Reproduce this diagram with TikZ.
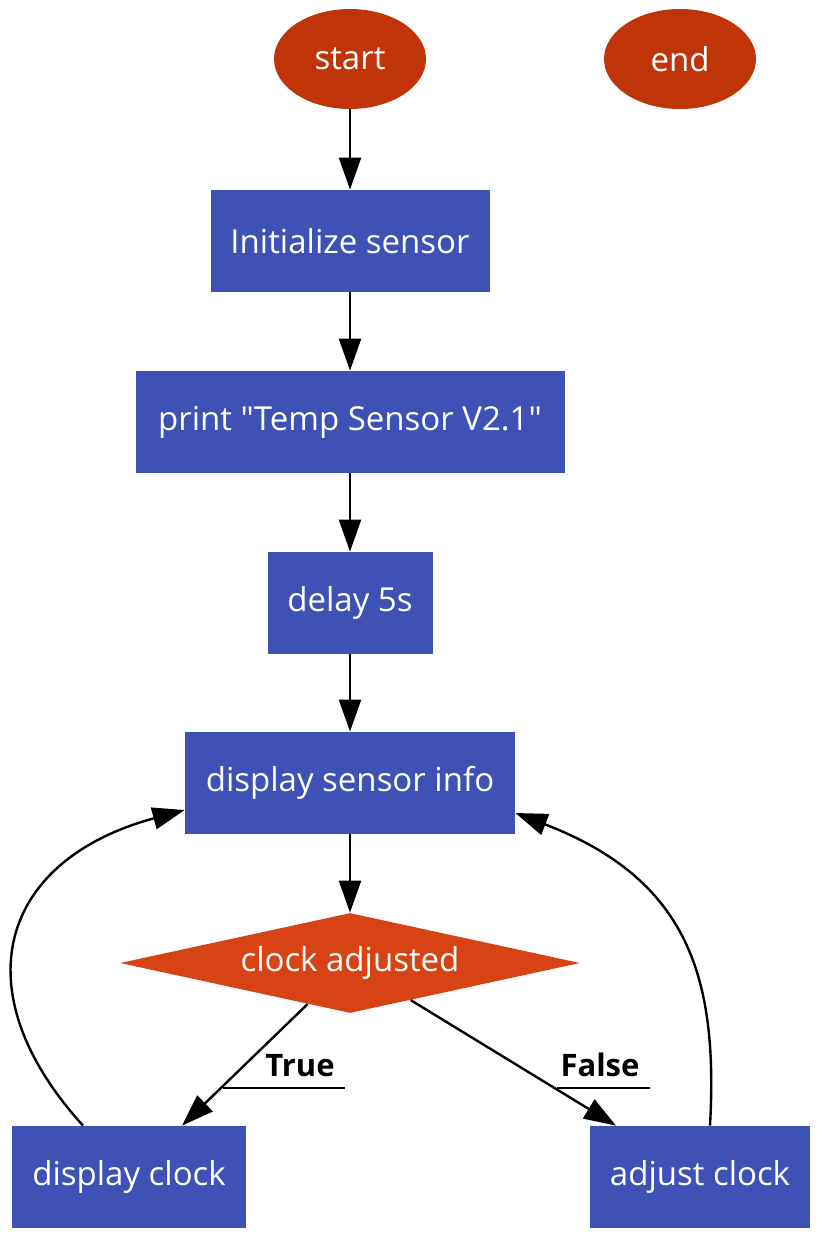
\documentclass[tikz,border=0pt]{standalone}
\usepackage{fontspec}
\setmainfont{Open Sans}
\usepackage{tikz}
\usepackage{xcolor}
\usetikzlibrary{arrows.meta,positioning,calc,shapes.geometric}
\definecolor{ink}{HTML}{000000}
\definecolor{indigo}{HTML}{3F51B5}
\definecolor{rust}{HTML}{C0340A}
\definecolor{flame}{HTML}{D84315}
\tikzset{
  block/.style={fill=indigo, text=white, inner sep=0pt, minimum height=51pt,
                font=\fontsize{16.5}{19}\selectfont},
  terminal/.style={ellipse, fill=rust, text=white, inner sep=0pt,
                   minimum width=76pt, minimum height=50pt,
                   font=\fontsize{16.5}{19}\selectfont},
  decision/.style={diamond, aspect=4.6, fill=flame, text=white, inner sep=0pt,
                   minimum width=230pt, minimum height=50pt,
                   font=\fontsize{16.5}{19}\selectfont},
  arrow/.style={-{Triangle[length=16pt,width=11pt]}, line width=1.2pt, draw=ink},
  branch/.style={font=\fontsize{15.5}{18}\selectfont\bfseries, inner sep=5pt},
  deco/.style={line width=1.2pt, draw=ink}
}
\begin{document}
\begin{tikzpicture}[x=0.5pt,y=-0.5pt]
        \useasboundingbox (0,0) rectangle (836,1253);
        \node[terminal] (start) at (350,59) {start};
        \node[terminal] (end) at (680,59) {end};

        \node[block,minimum width=139.5pt] (init) at (350,241) {Initialize sensor};
        \node[block,minimum width=214.5pt] (print) at (350,422) {print \textquotedbl Temp Sensor V2.1\textquotedbl};
        \node[block,minimum width=82.5pt] (delay) at (350,603) {delay 5s};
        \node[block,minimum width=165pt] (info) at (350,783) {display sensor info};
        \node[decision] (adj) at (350,963) {clock adjusted};
        \node[block,minimum width=117pt] (dclock) at (129,1177) {display clock};
        \node[block,minimum width=110pt] (aclock) at (700,1177) {adjust clock};

        \draw[arrow] (start) -- (init);
        \draw[arrow] (init) -- (print);
        \draw[arrow] (print) -- (delay);
        \draw[arrow] (delay) -- (info);
        \draw[arrow] (info) -- (adj);
        \draw[arrow] (adj) -- (dclock);
        \draw[arrow] (adj) -- (aclock);

        \draw[arrow] (dclock.north -| 83,0) .. controls (-40,990) and (0,860) .. (info.south west |- 0,810);
        \draw[arrow] (aclock.north -| 710,0) .. controls (718,980) and (690,880) .. (info.south east |- 0,813);

        % branch labels, underlined back to their edges
        \node[branch] (tlabel) at (300,1066) {True};
        \node[branch] (flabel) at (600,1065) {False};
        \coordinate (tdec) at (223,1088);
        \coordinate (fdec) at (557,1088);
        \draw[deco] (tdec) -- (tdec -| tlabel.east);
        \draw[deco] (fdec) -- (fdec -| flabel.east);
      \end{tikzpicture}
\end{document}
